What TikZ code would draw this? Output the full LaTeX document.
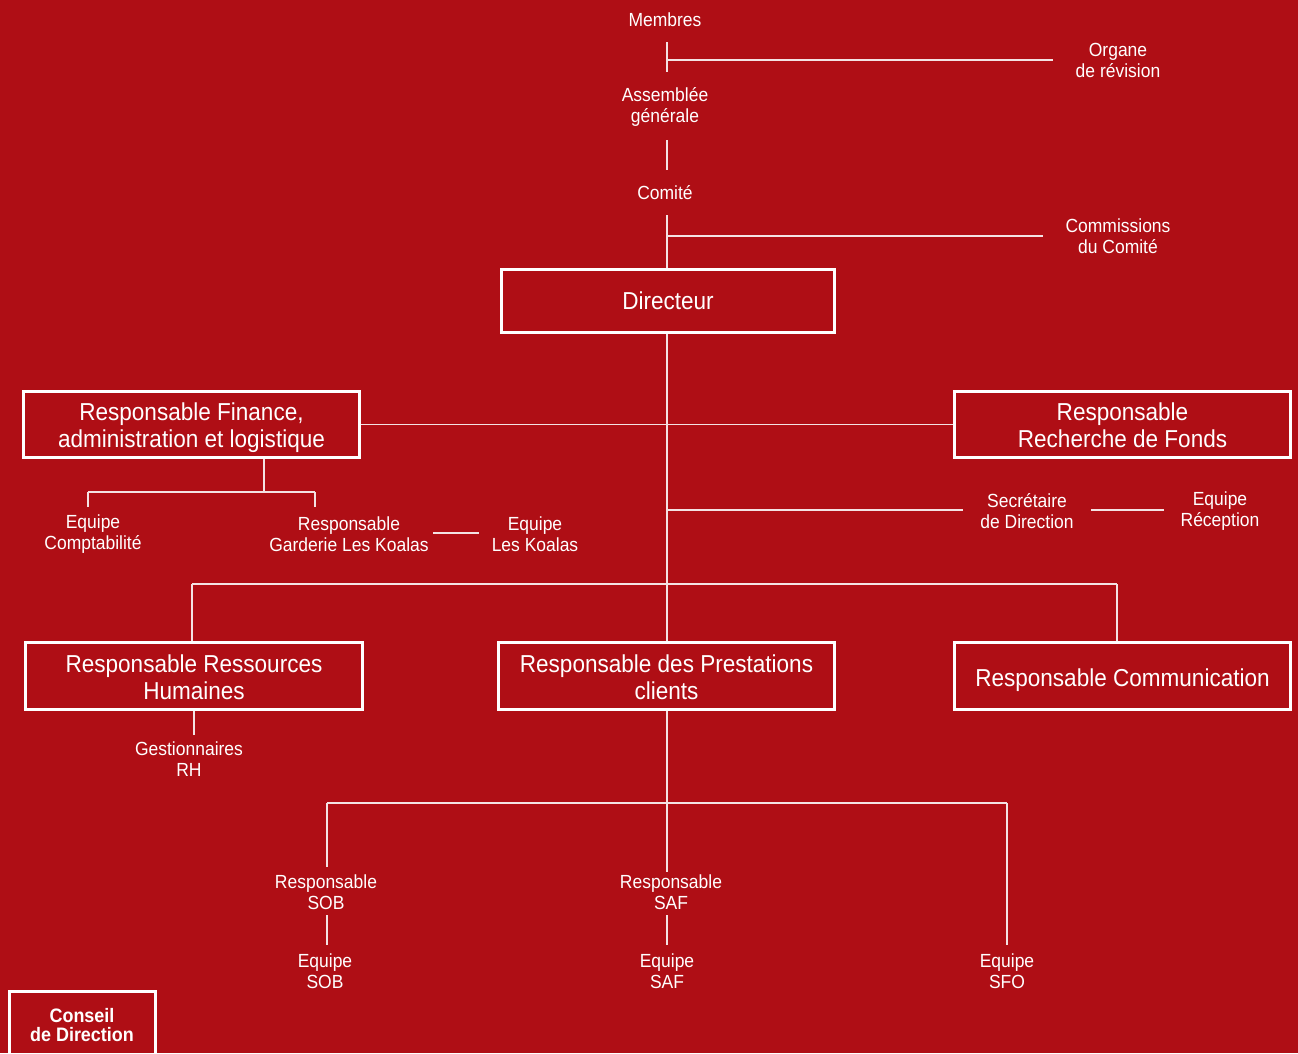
\documentclass[tikz,border=0pt]{standalone}
\usepackage{fontspec}
\setmainfont[FakeStretch=0.92]{Liberation Sans}
\definecolor{bg}{HTML}{AF0E15}
\definecolor{ln}{HTML}{F4E2E3}
\begin{document}
\begin{tikzpicture}[x=1pt,y=-1pt,
  lbl/.style={text=white,align=center,font=\fontsize{19}{21}\selectfont,inner sep=0pt},
  box/.style={draw=white,line width=3pt,text=white,align=center,font=\fontsize{24.5}{27}\selectfont,inner sep=0pt,minimum width=336pt,minimum height=66pt},
  conn/.style={draw=ln,line width=1.3pt}]
\fill[bg] (0,0) rectangle (1298,1053);
\useasboundingbox (0,0) rectangle (1298,1053);
\clip (0,0) rectangle (1298,1053);
% labels
\node[lbl] (membres) at (665,20) {Membres};
\node[lbl] (organe) at (1118,60) {Organe\\de révision};
\node[lbl] (ag) at (665,107) {Assemblée\\générale};
\node[lbl] (comite) at (665,193) {Comité};
\node[lbl] (commissions) at (1118,236) {Commissions\\du Comité};
\node[lbl] (comptab) at (93,534) {Equipe\\Comptabilité};
\node[lbl] (garderie) at (349,534) {Responsable\\Garderie Les Koalas};
\node[lbl] (koalas) at (535,534) {Equipe\\Les Koalas};
\node[lbl] (secretaire) at (1027,511) {Secrétaire\\de Direction};
\node[lbl] (reception) at (1220,511) {Equipe\\Réception};
\node[lbl] (gestrh) at (189,759) {Gestionnaires\\RH};
\node[lbl] (respsob) at (326,892) {Responsable\\SOB};
\node[lbl] (respsaf) at (671,892) {Responsable\\SAF};
\node[lbl] (eqsob) at (325,971) {Equipe\\SOB};
\node[lbl] (eqsaf) at (667,971) {Equipe\\SAF};
\node[lbl] (eqsfo) at (1007,971) {Equipe\\SFO};
% boxes
\node[box,minimum width=333pt,minimum height=63pt] (dir) at (668,301) {Directeur};
\node[box] (fin) at (191.5,424.5) {\rule{0pt}{23.5pt}Responsable Finance,\\administration et logistique};
\node[box] (rech) at (1122.5,424.5) {\rule{0pt}{19.5pt}Responsable\\Recherche de Fonds};
\node[box,minimum width=337pt,minimum height=67pt] (rh) at (194,676) {\rule{0pt}{19.5pt}Responsable Ressources\\Humaines};
\node[box,minimum height=67pt] (prest) at (666.5,676) {\rule{0pt}{19.5pt}Responsable des Prestations\\clients};
\node[box,minimum height=67pt] (comm) at (1122.5,676) {\rule{0pt}{25.5pt}Responsable Communication};
\node[box,minimum width=146pt,minimum height=67pt] (conseil) at (82.5,1025) {};
\node[lbl,font=\bfseries\fontsize{19.5}{19.5}\selectfont] (conseiltxt) at (82,1025) {Conseil\\de Direction};
% coordinates
\coordinate (a1) at (667,42);
\coordinate (a2) at (667,72);
\coordinate (a3) at (667,60);
\coordinate (a4) at (1053,60);
\coordinate (b1) at (667,140);
\coordinate (b2) at (667,170);
\coordinate (c1) at (667,215);
\coordinate (c2) at (667,236);
\coordinate (c3) at (1043,236);
\coordinate (s1) at (667,510);
\coordinate (s2) at (963,510);
\coordinate (s3) at (1091,510);
\coordinate (s4) at (1164,510);
\coordinate (f1) at (264,459);
\coordinate (f2) at (264,492);
\coordinate (f3) at (88,492);
\coordinate (f4) at (88,507);
\coordinate (f5) at (315,492);
\coordinate (f6) at (315,507);
\coordinate (g1) at (433,533);
\coordinate (g2) at (479,533);
\coordinate (h1) at (192,584);
\coordinate (h2) at (1117,584);
\coordinate (r1) at (194,711);
\coordinate (r2) at (194,735);
\coordinate (p1) at (667,711);
\coordinate (p3) at (667,872);
\coordinate (q1) at (327,803);
\coordinate (q2) at (327,867);
\coordinate (q3) at (1007,803);
\coordinate (q4) at (1007,945);
\coordinate (q5) at (327,915);
\coordinate (q6) at (327,945);
\coordinate (q7) at (667,915);
\coordinate (q8) at (667,945);
% connectors
\draw[conn] (a1) -- (a2);
\draw[conn] (a3) -- (a4);
\draw[conn] (b1) -- (b2);
\draw[conn] (c1) -- (c1 |- dir.north);
\draw[conn] (c2) -- (c3);
\draw[conn] (c1 |- dir.south) -- (c1 |- prest.north);
\draw[conn] (fin.east) -- (rech.west);
\draw[conn] (s1) -- (s2);
\draw[conn] (s3) -- (s4);
\draw[conn] (f1) -- (f2);
\draw[conn] (f3) -- (f5);
\draw[conn] (f3) -- (f4);
\draw[conn] (f5) -- (f6);
\draw[conn] (g1) -- (g2);
\draw[conn] (h1) -- (h2);
\draw[conn] (h1) -- (h1 |- rh.north);
\draw[conn] (h2) -- (h2 |- comm.north);
\draw[conn] (r1) -- (r2);
\draw[conn] (p1) -- (p3);
\draw[conn] (q1) -- (q3);
\draw[conn] (q1) -- (q2);
\draw[conn] (q3) -- (q4);
\draw[conn] (q5) -- (q6);
\draw[conn] (q7) -- (q8);
\end{tikzpicture}
\end{document}
